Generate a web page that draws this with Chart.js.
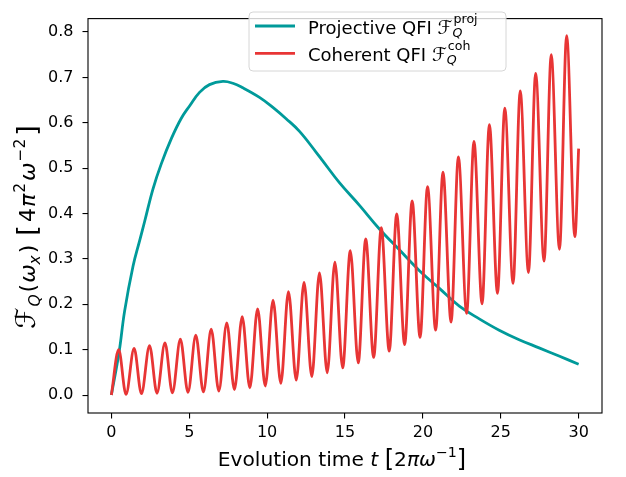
<!DOCTYPE html>
<html>
<head>
<meta charset="utf-8">
<script src="https://cdn.jsdelivr.net/npm/chart.js@4.4.1/dist/chart.umd.min.js"></script>
<style>
html,body{margin:0;padding:0;background:#fff;}
#wrap{position:relative;width:626px;height:477px;}
</style>
</head>
<body>
<div id="wrap"><canvas id="c" width="626" height="477"></canvas></div>
<script>
// ---- data ----
const xTicks = [0, 5, 10, 15, 20, 25, 30];
const yTicks = [0.0, 0.1, 0.2, 0.3, 0.4, 0.5, 0.6, 0.7, 0.8];

// Projective QFI (teal)
const projT = [0, 0.49, 0.85, 1.39, 1.82, 2.14, 2.67, 3.21, 3.85, 4.49, 5.02, 5.66, 6.3, 7.16, 7.8, 8.44, 9.51, 10.37, 11.22, 12.08, 13.15, 13.57, 14.64, 15.93, 17.21, 18.49, 19.78, 21.06, 22.34, 23.62, 24.9, 26.18, 27.46, 28.74, 30];
const projV = [0, 0.093, 0.185, 0.284, 0.341, 0.383, 0.454, 0.510, 0.565, 0.610, 0.637, 0.667, 0.684, 0.691, 0.687, 0.677, 0.656, 0.634, 0.609, 0.581, 0.535, 0.516, 0.468, 0.418, 0.366, 0.32, 0.274, 0.235, 0.196, 0.168, 0.143, 0.122, 0.104, 0.086, 0.068];

// Coherent QFI (red): start, local maxima, local minima, end
const cohStart = [0, 0];
const cohPeakT = [0.47, 1.46, 2.45, 3.44, 4.43, 5.42, 6.41, 7.41, 8.40, 9.39, 10.38, 11.37, 12.37, 13.36, 14.35, 15.34, 16.33, 17.33, 18.32, 19.31, 20.30, 21.29, 22.28, 23.28, 24.27, 25.26, 26.25, 27.24, 28.24, 29.23];
const cohPeakV = [0.100, 0.103, 0.109, 0.115, 0.123, 0.132, 0.145, 0.159, 0.173, 0.190, 0.209, 0.228, 0.248, 0.269, 0.293, 0.318, 0.344, 0.369, 0.399, 0.428, 0.459, 0.491, 0.525, 0.559, 0.596, 0.632, 0.670, 0.709, 0.750, 0.792];
const cohTroughT = [0.94, 1.93, 2.93, 3.92, 4.92, 5.91, 6.90, 7.90, 8.89, 9.88, 10.88, 11.87, 12.87, 13.86, 14.85, 15.85, 16.84, 17.84, 18.83, 19.82, 20.82, 21.81, 22.81, 23.80, 24.79, 25.79, 26.78, 27.78, 28.77, 29.76];
const cohTroughV = [0.0015, 0.003, 0.004, 0.005, 0.006, 0.007, 0.009, 0.012, 0.016, 0.020, 0.026, 0.033, 0.041, 0.049, 0.060, 0.071, 0.083, 0.097, 0.111, 0.127, 0.143, 0.161, 0.180, 0.201, 0.224, 0.246, 0.270, 0.295, 0.321, 0.349];
const cohEnd = [30, 0.543];

// ---- build point lists ----
const projData = projT.map((t, i) => ({x: t, y: projV[i]}));
const cohData = [{x: cohStart[0], y: cohStart[1]}];
for (let i = 0; i < cohPeakT.length; i++) {
  cohData.push({x: cohPeakT[i], y: cohPeakV[i]});
  cohData.push({x: cohTroughT[i], y: cohTroughV[i]});
}
cohData.push({x: cohEnd[0], y: cohEnd[1]});

const TEAL = '#009a9a';
const RED = '#e83535';
const FONT = '"DejaVu Sans", sans-serif';

function fontStr(p) { return (p.it ? 'italic ' : '') + p.s + 'px ' + FONT; }
function measureParts(ctx, parts) {
  let x = 0, g = 0; const pos = [];
  for (const p of parts) {
    ctx.font = fontStr(p);
    const w = ctx.measureText(p.t).width + (p.dx || 0);
    pos.push(x + (p.dx || 0));
    if (p.k) { g = Math.max(g, w); } else { x += Math.max(g, w); g = 0; }
  }
  return {pos, width: x};
}
function drawParts(ctx, parts, x0, y0) {
  const m = measureParts(ctx, parts);
  ctx.textAlign = 'left';
  ctx.textBaseline = 'alphabetic';
  parts.forEach((p, i) => { ctx.font = fontStr(p); ctx.fillText(p.t, x0 + m.pos[i], y0 + (p.dy || 0)); });
  return m.width;
}

const legendItems = [
  {color: TEAL, parts: [{t: 'Projective QFI ', s: 18}, {t: 'ℱ', s: 19}, {t: 'Q', s: 12.6, it: true, dy: 3, k: true}, {t: 'proj', s: 12.6, dy: -11, dx: 1}]},
  {color: RED, parts: [{t: 'Coherent QFI ', s: 18}, {t: 'ℱ', s: 19}, {t: 'Q', s: 12.6, it: true, dy: 3, k: true}, {t: 'coh', s: 12.6, dy: -11, dx: 1}]}
];
const xTitleParts = [{t: 'Evolution time ', s: 20.2}, {t: 't', s: 20.2, it: true}, {t: ' ', s: 20.2}, {t: '[', s: 24, dy: 1}, {t: '2', s: 20.2}, {t: 'π', s: 20.2, it: true}, {t: 'ω', s: 20.2, it: true}, {t: '−1', s: 14.2, dy: -9}, {t: ']', s: 24, dy: 1}];
const yTitleParts = [
  {t: 'ℱ', s: 27}, {t: 'Q', s: 15.5, it: true, dy: 5, dx: 1},
  {t: '(', s: 22, dx: 2}, {t: 'ω', s: 22, it: true, dx: 1}, {t: 'x', s: 15.5, it: true, dy: 5}, {t: ')', s: 22, dx: 2},
  {t: ' ', s: 22}, {t: '[', s: 27, dy: 1, dx: 2}, {t: '4', s: 22, dx: 3}, {t: 'π', s: 22, it: true, dx: 1},
  {t: '2', s: 15.5, dy: -10, dx: 1}, {t: 'ω', s: 22, it: true, dx: 2}, {t: '−2', s: 15.5, dy: -10, dx: 1}, {t: ']', s: 27, dy: 1, dx: 3}
];

const decor = {
  id: 'decor',
  afterDraw(chart) {
    const ctx = chart.ctx;
    const a = chart.chartArea;
    ctx.save();
    // frame
    ctx.strokeStyle = '#000';
    ctx.lineWidth = 1.1;
    ctx.strokeRect(a.left, a.top, a.right - a.left, a.bottom - a.top);
    // legend box
    const bx = 249, by = 12, bw = 257, bh = 59, r = 4;
    ctx.beginPath();
    ctx.moveTo(bx + r, by);
    ctx.arcTo(bx + bw, by, bx + bw, by + bh, r);
    ctx.arcTo(bx + bw, by + bh, bx, by + bh, r);
    ctx.arcTo(bx, by + bh, bx, by, r);
    ctx.arcTo(bx, by, bx + bw, by, r);
    ctx.closePath();
    ctx.fillStyle = 'rgba(255,255,255,0.8)';
    ctx.fill();
    ctx.strokeStyle = '#d6d6d6';
    ctx.lineWidth = 1;
    ctx.stroke();
    legendItems.forEach((it, i) => {
      const ly = 26 + i * 27.3;
      ctx.strokeStyle = it.color;
      ctx.lineWidth = 2.8;
      ctx.beginPath(); ctx.moveTo(255, ly); ctx.lineTo(295, ly); ctx.stroke();
      ctx.fillStyle = '#000';
      drawParts(ctx, it.parts, 308, ly + 7.5);
    });
    // x title
    ctx.fillStyle = '#000';
    const xw = measureParts(ctx, xTitleParts).width;
    drawParts(ctx, xTitleParts, 342 - xw / 2, 466);
    // y title (rotated)
    const yw = measureParts(ctx, yTitleParts).width;
    ctx.translate(35, 227);
    ctx.rotate(-Math.PI / 2);
    drawParts(ctx, yTitleParts, -yw / 2, 0);
    ctx.restore();
  }
};

new Chart(document.getElementById('c'), {
  type: 'line',
  data: {
    datasets: [
      {label: 'Coherent QFI', data: cohData, borderColor: RED, borderWidth: 2.8, pointRadius: 0, cubicInterpolationMode: 'monotone', fill: false, order: 0},
      {label: 'Projective QFI', data: projData, borderColor: TEAL, borderWidth: 2.8, pointRadius: 0, tension: 0.4, fill: false, order: 1}
    ]
  },
  options: {
    responsive: false,
    animation: false,
    devicePixelRatio: 1,
    layout: {padding: {left: 0, top: 3, right: 24, bottom: 0}},
    plugins: {legend: {display: false}, tooltip: {enabled: false}},
    scales: {
      x: {
        type: 'linear', min: -1.5, max: 31.5,
        afterBuildTicks: s => { s.ticks = xTicks.map(v => ({value: v})); },
        afterFit: s => { s.height = 64; },
        grid: {display: true, drawOnChartArea: false, drawTicks: true, tickLength: 5.5, color: '#000', lineWidth: 1.1},
        border: {display: false},
        ticks: {color: '#000', font: {family: 'DejaVu Sans', size: 16}, padding: 5, maxRotation: 0, callback: v => String(v)}
      },
      y: {
        type: 'linear', min: -0.0395, max: 0.8295,
        afterBuildTicks: s => { s.ticks = yTicks.map(v => ({value: v})); },
        afterFit: s => { s.width = 88; },
        grid: {display: true, drawOnChartArea: false, drawTicks: true, tickLength: 5.5, color: '#000', lineWidth: 1.1},
        border: {display: false},
        ticks: {color: '#000', font: {family: 'DejaVu Sans', size: 16}, padding: 9, callback: v => v.toFixed(1)}
      }
    }
  },
  plugins: [decor]
});
</script>
</body>
</html>
